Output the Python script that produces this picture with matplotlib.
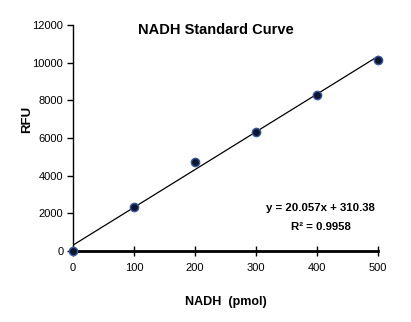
import numpy as np
import matplotlib.pyplot as plt

plt.rcParams['font.family'] = ['Liberation Sans', 'DejaVu Sans']

nadh = [0, 100, 200, 300, 400, 500]
rfu = [0, 2340, 4740, 6320, 8280, 10140]
slope = 20.057
intercept = 310.38
r2 = 0.9958

fig = plt.figure(figsize=(4.11, 3.22), dpi=100)
ax = fig.add_axes([73 / 411, 1 - 251 / 322, 305 / 411, 226 / 322])

xs = np.array([0, 500])
ax.plot(xs, slope * xs + intercept, color='black', lw=0.9, zorder=2)
ax.plot(nadh, rfu, 'o', ms=6, mfc='#0d1530', mec='#3a5a9a', mew=1.0,
        clip_on=False, zorder=3)

ax.set_xlim(0, 500)
ax.set_ylim(0, 12000)
ax.set_xticks(range(0, 501, 100))
ax.set_yticks(range(0, 12001, 2000))
ax.spines['top'].set_visible(False)
ax.spines['right'].set_visible(False)
ax.spines['left'].set_linewidth(1.0)
ax.spines['bottom'].set_linewidth(2.0)
ax.tick_params(axis='y', direction='out', length=4, width=1, labelsize=8, pad=3)
ax.tick_params(axis='x', direction='inout', length=7, width=1, labelsize=8, pad=5)

ax.set_xlabel('NADH  (pmol)', fontsize=9, fontweight='bold', labelpad=17)
ax.set_ylabel('RFU', fontsize=9.5, fontweight='bold')
ax.yaxis.set_label_coords(-40 / 305, 0.58)
fig.text(216 / 411, 1 - 30 / 322, 'NADH Standard Curve', ha='center', va='center',
         fontsize=10.5, fontweight='bold')

ax.text(406, 2260, 'y = %.3fx + %.2f' % (slope, intercept), ha='center', va='center',
        fontsize=8.2, fontweight='bold')
ax.text(406, 1300, 'R² = %.4f' % r2, ha='center', va='center',
        fontsize=8.2, fontweight='bold')

fig.savefig('out.png', dpi=100)
